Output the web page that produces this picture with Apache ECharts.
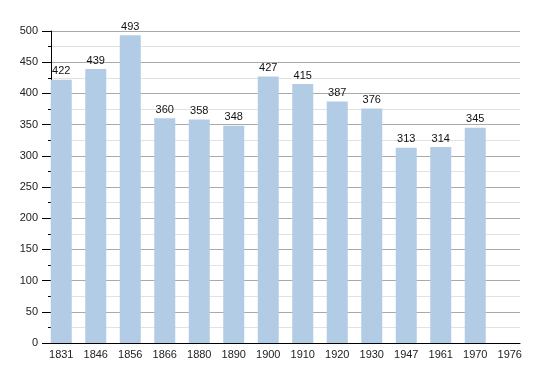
<!DOCTYPE html>
<html>
<head>
<meta charset="utf-8">
<script src="https://cdn.jsdelivr.net/npm/echarts@6/dist/echarts.min.js"></script>
<style>html,body{margin:0;padding:0;background:#fff;}#c{width:550px;height:373px;}</style>
</head>
<body>
<div id="c"></div>
<script>
const years = ['1831','1846','1856','1866','1880','1890','1900','1910','1920','1930','1947','1961','1970','1976'];
const population = [422,439,493,360,358,348,427,415,387,376,313,314,345,null];
const yMin = 0, yMax = 500, yInterval = 50;

const font = '"Liberation Sans", Arial, Helvetica, sans-serif';
const chart = echarts.init(document.getElementById('c'), null, {renderer:'canvas'});
chart.setOption({
  animation: false,
  backgroundColor: '#ffffff',
  grid: [
    {left: 51, right: 30, top: 31, bottom: 30},
    {left: 44, right: 23, top: 31, bottom: 30}
  ],
  xAxis: [
    {gridIndex: 0, type: 'value', min: 0, max: 1,
     axisLine: {show: true, lineStyle: {color: '#000', width: 1}},
     axisTick: {show: false}, axisLabel: {show: false}, splitLine: {show: false}},
    {gridIndex: 1, type: 'category', data: years,
     axisLine: {show: false}, axisTick: {show: false},
     axisLabel: {color: '#222', fontSize: 11, fontFamily: font, margin: 6, interval: 0}}
  ],
  yAxis: [
    {gridIndex: 0, type: 'value', min: yMin, max: yMax, interval: yInterval,
     axisLine: {show: true, lineStyle: {color: '#000', width: 1}},
     axisTick: {show: true, length: 9, lineStyle: {color: '#000'}},
     minorTick: {show: true, splitNumber: 2, length: 3, lineStyle: {color: '#000'}},
     axisLabel: {color: '#222', fontSize: 11, fontFamily: font, margin: 13},
     splitLine: {show: true, lineStyle: {color: '#aaaaaa', width: 1}},
     minorSplitLine: {show: true, lineStyle: {color: '#e2e2e2', width: 1}}},
    {gridIndex: 1, type: 'value', min: yMin, max: yMax, interval: yInterval, show: false,
     splitLine: {show: false}}
  ],
  series: [{
    type: 'bar', xAxisIndex: 1, yAxisIndex: 1,
    data: population, barWidth: 21,
    itemStyle: {color: '#b3cce5'},
    label: {show: true, position: 'top', distance: 3, color: '#111', fontSize: 11, fontFamily: font}
  }]
});
</script>
</body>
</html>
